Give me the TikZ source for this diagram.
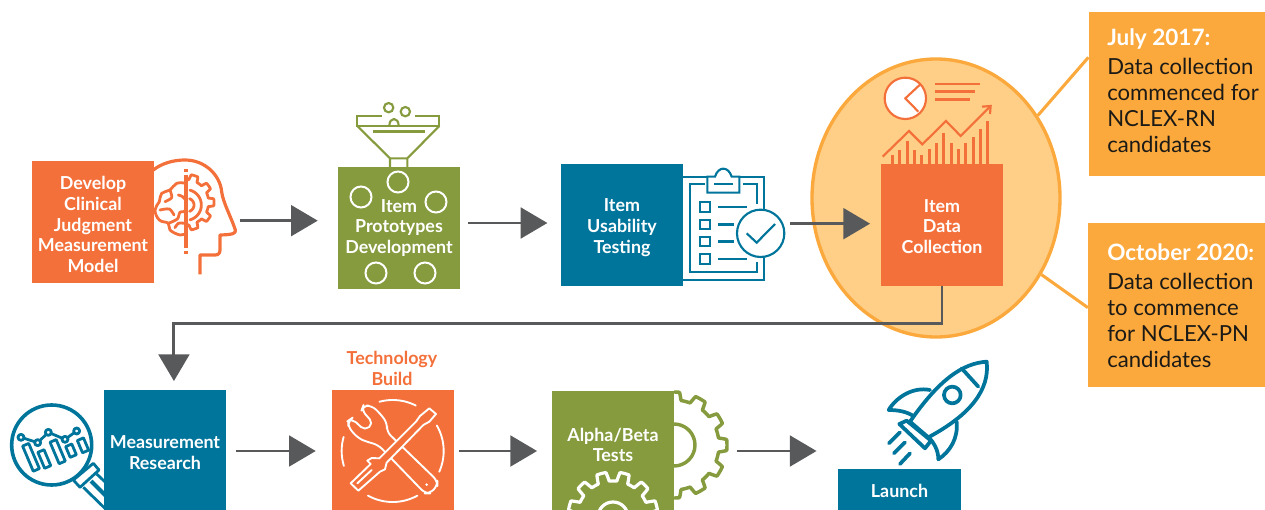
\documentclass[tikz,border=0pt]{standalone}
\usepackage{fontspec}
\setmainfont{Lato}
\usetikzlibrary{arrows.meta,shapes.geometric}
\definecolor{cor}{HTML}{F4703A}
\definecolor{col}{HTML}{859B3D}
\definecolor{cte}{HTML}{00759C}
\definecolor{cam}{HTML}{FBA93D}
\definecolor{cel}{HTML}{FFCE87}
\definecolor{cgr}{HTML}{58595B}
\definecolor{cink}{HTML}{1C1A16}
\tikzset{
 boxbase/.style={minimum width=91.5pt,minimum height=91.5pt,inner sep=0pt},
 obox/.style={boxbase,fill=cor},
 gbox/.style={boxbase,fill=col},
 tbox/.style={boxbase,fill=cte},
 flow/.style={draw=cgr,line width=2.2pt,-{Triangle[length=20pt,width=23pt]}},
 leader/.style={draw=cam,line width=2.3pt},
 callout/.style={fill=cam,minimum width=132.5pt,minimum height=123pt,inner sep=0pt},
 callhead/.style={anchor=west,inner sep=0pt,text=white,font=\fontsize{16.9}{20}\selectfont\bfseries},
 callbody/.style={anchor=north west,inner sep=0pt,text=cink,align=left,font=\fontsize{16.6}{19.6}\selectfont},
 boxtext/.style={inner sep=0pt,align=center,text=white,font=\fontsize{13.4}{15.5}\selectfont\bfseries},
 iconO/.style={draw=cor,line width=2.4pt},
 brainl/.style={draw=cor,line width=2.1pt,line cap=round,line join=round},
 iconG/.style={draw=col,line width=1.6pt},
 iconT/.style={draw=cte,line width=1.6pt},
 iconM/.style={draw=cte,line width=2.1pt,line join=round},
 iconW/.style={draw=white,line width=1.5pt},
 iconX/.style={draw=white,line width=1.4pt,line join=round,line cap=round},
 iconR/.style={draw=cte,line width=2.8pt,line cap=round,line join=round},
}
\begin{document}
\begin{tikzpicture}[x=0.75pt,y=-0.75pt,
 declare function={gr(\t,\n,\a,\b)=\a+(\b-\a)*max(0,min(1,0.5+1.6*cos(\n*\t)));}]
\useasboundingbox (0,0) rectangle (1265,510);
\clip (0,0) rectangle (1265,510);
% focus ellipse and callouts
\node[callout] (c1) at (1177,94) {};
\node[callout] (c2) at (1176.5,305) {};
\node[ellipse,draw=cam,fill=cel,line width=2.5pt,minimum width=186pt,minimum height=208.5pt,inner sep=0pt] (focus) at (936,198) {};
\draw[leader] (focus.39) -- ([yshift=27.5pt]c1.west);
\draw[leader] (focus.-36) -- ([yshift=-2pt]c2.west);
\node[callhead] (h1) at (1107,39.5) {July 2017:};
\node[callbody] (b1) at (1107,58) {Data collection\\commenced for\\NCLEX-RN\\candidates};
\node[callhead] (h2) at (1107,252.5) {October 2020:};
\node[callbody] (b2) at (1107,272.5) {Data collection\\to commence\\for NCLEX-PN\\candidates};
% head icon
\begin{scope}[shift={(150,155)},scale=1/3]
 \draw[iconO,line join=round] (10,45) .. controls (35,25) and (70,15) .. (105,15) .. controls (165,15) and (210,60) .. (215,110) .. controls (218,140) and (245,190) .. (256,225) .. controls (258,235) and (250,239) .. (210,240) -- (210,285) .. controls (210,295) and (205,300) .. (195,300) -- (150,300) -- (150,358);
 \draw[iconO] (108,42) -- (108,52) (108,60) -- (108,280) (108,288) -- (108,298);
 \draw[brainl] plot[domain=-88:88,samples=181,variable=\t] ({108+gr(\t,10,68,84)*cos(\t)},{142+gr(\t,10,68,84)*sin(\t)});
 \draw[brainl] plot[domain=-75:75,samples=40,variable=\t] ({108+46*cos(\t)},{150+46*sin(\t)});
 \draw[brainl] plot[domain=-70:70,samples=40,variable=\t] ({112+20*cos(\t)},{150+20*sin(\t)});
 \draw[brainl] plot[smooth,tension=.7] coordinates {(108,85) (80,85) (60,105) (35,115) (28,140) (15,165) (28,195) (55,205) (60,225) (90,240) (108,235)};
 \draw[brainl] plot[smooth] coordinates {(85,120) (98,125) (108,137)};
 \draw[brainl] plot[smooth] coordinates {(60,105) (65,128) (45,140)};
 \draw[brainl] plot[smooth] coordinates {(30,165) (58,162) (72,180)};
 \draw[brainl] plot[smooth] coordinates {(55,205) (82,192) (90,172) (108,170)};
 \draw[brainl] plot[smooth] coordinates {(75,218) (85,205) (108,205)};
\end{scope}
% funnel
\begin{scope}[shift={(20,90)},scale=1/3]
 \draw[iconG] (1085,78) -- (1012,78) -- (1012,108) -- (1258,108) -- (1258,78) -- (1185,78);
 \draw[iconG] (1012,108) -- (1110,205) -- (1110,232) (1258,108) -- (1162,205) -- (1162,232) (1110,205) -- (1162,205);
 \draw[col,line width=2.1pt] (1060,124) -- (1215,124);
 \draw[iconG] (1106,53) circle[radius=14];
 \draw[iconG] (1156,65) circle[radius=14];
 \draw[iconG] (1108,108) .. controls (1108,80) and (1136,80) .. (1136,108);
\end{scope}
% clipboard
\begin{scope}[shift={(550,60)},scale=1/3]
 \draw[iconT] (399,350) -- (472,350) (568,350) -- (642,350) -- (642,450) (642,590) -- (642,660) -- (399,660);
 \draw[iconT] (465,372) -- (420,372) -- (420,635) -- (620,635) -- (620,605) (580,372) -- (620,372) -- (620,432);
 \draw[iconT] (472,350) -- (472,398) -- (568,398) -- (568,350) -- (545,350) .. controls (535,318) and (505,318) .. (495,350) -- cycle;
 \draw[cte,line width=1.9pt] (492,372) -- (548,372);
 \foreach \yy/\ll in {441/590,493/552,545/552,597/590}{
  \draw[iconT] (449,\yy-14) rectangle (480,\yy+14);
  \draw[cte,line width=1.9pt] (505,\yy) -- (\ll,\yy);
 }
 \draw[iconT] (632,520) circle[radius=71];
 \draw[iconT] (590,520) -- (620,548) -- (675,492);
\end{scope}
% data icon
\begin{scope}[shift={(550,60)},scale=1/3]
 \draw[draw=cor,line width=1.6pt,fill=white] (1066,115) circle[radius=62];
 \draw[draw=cor,line width=1.6pt] (1112,72) -- (1066,115) -- (1105,155);
 \foreach \yy/\ll in {72/1290,95/1275,118/1260}{\draw[cor,line width=1.9pt] (1155,\yy) -- (\ll,\yy);}
 \draw[draw=cor,line width=1.6pt] (998,290) -- (1077,213) -- (1117,253) -- (1188,183) -- (1232,228) -- (1320,140);
 \draw[draw=cor,line width=1.6pt] (1296,140) -- (1322,138) -- (1320,162);
 \foreach \xx/\yy in {1027/285,1049/270,1072/243,1093/270,1114/285,1138/268,1160/250,1181/220,1204/250,1226/268,1247/250,1270/232,1292/207,1313/183}{
  \draw[cor,line width=1.9pt] (\xx,312) -- (\xx,\yy);}
\end{scope}
% magnifier
\begin{scope}[shift={(5,400)},scale=1/3]
 \draw[iconM,line width=2.7pt] (140,135) circle[radius=120];
 \draw[iconM] (205,240) -- (265,190) -- (282,210) -- (225,262) -- cycle;
 \draw[iconM] (235,262) -- (310,335) (275,222) -- (310,255);
 \draw[iconM,line width=3pt] (258,243) -- (310,295);
 \draw[iconM] (48,112) -- (98,128) -- (130,97) -- (180,118) -- (215,93);
 \foreach \xx/\yy in {48/112,98/128,130/97,180/118,215/93}{\draw[iconM,fill=white] (\xx,\yy) circle[radius=9];}
 \foreach \xx/\yy/\ll in {78/172/82,118/177/52,158/155/70,198/152/35,234/136/40}{
  \draw[iconM,rotate around={23:(\xx,\yy)}] (\xx-10,\yy-\ll/2) rectangle (\xx+10,\yy+\ll/2);}
\end{scope}
% big gear behind the alpha box
\draw[iconG,line width=2.6pt,line join=round] plot[domain=-90:90,samples=181,variable=\t] ({674+gr(\t,12,45,53)*cos(\t)},{445+gr(\t,12,45,53)*sin(\t)});
\draw[iconG,line width=2.6pt] (674,445) circle[radius=21];
% rocket
\begin{scope}[shift={(530,350)},scale=1/3]
 \draw[iconR] (1370,35) .. controls (1300,40) and (1230,85) .. (1140,215) -- (1195,262) .. controls (1320,195) and (1380,120) .. (1370,35) -- cycle;
 \draw[iconR] (1295,55) -- (1345,110);
 \draw[iconR] (1267,135) circle[radius=25];
 \draw[iconR] (1200,120) .. controls (1150,110) and (1100,140) .. (1076,180) .. controls (1105,180) and (1130,185) .. (1150,198);
 \draw[iconR] (1280,215) .. controls (1285,265) and (1260,305) .. (1225,328) .. controls (1225,300) and (1212,280) .. (1197,262);
 \draw[iconR] (1108,222) -- (1130,212) -- (1203,272) -- (1185,295) -- cycle;
 \draw[iconR] (1077,280) -- (1110,247) (1092,310) -- (1125,277) (1110,342) -- (1140,310);
\end{scope}
% boxes
\node[obox] (dev) at (93,222) {};
\node[gbox] (proto) at (399,228) {};
\node[tbox] (usab) at (622,225) {};
\node[obox] (coll) at (942,225) {};
\node[tbox] (meas) at (165,451) {};
\node[obox] (tech) at (393,451) {};
\node[gbox] (alpha) at (613,452) {};
\node[tbox,minimum width=92pt,minimum height=33pt] (launch) at (899.5,491) {};
\node[boxtext] (devl) at (93,224.5) {Develop\\Clinical\\Judgment\\Measurement\\Model};
\node[boxtext] (protol) at (399,228) {Item\\Prototypes\\Development};
\node[boxtext] (usabl) at (622,227.5) {Item\\Usability\\Testing};
\node[boxtext] (colll) at (942,226.5) {Item\\Data\\Collection};
\node[boxtext] (measl) at (165,452.5) {Measurement\\Research};
\node[boxtext] (launchl) at (899.5,491) {Launch};
\node[boxtext,text=cor] (techl) at (392,368.5) {Technology\\Build};
\node[boxtext] (alphal) at (613,445) {Alpha/Beta\\Tests};
% circles in prototypes box
\foreach \xx/\yy in {398/182,361/197,436/202,376/273,425/273}{\draw[iconW] (\xx,\yy) circle[radius=10.5];}
% white gear
\draw[iconW,line width=2.4pt,line join=round] plot[domain=0:360,samples=361,variable=\t] ({613+gr(\t+15,12,36,45)*cos(\t)},{517+gr(\t+15,12,36,45)*sin(\t)}) -- cycle;
\draw[iconW,line width=2.4pt] (613,517) circle[radius=15];
% tools
\begin{scope}[shift={(330,390)},scale=1/3]
 \foreach \a/\b in {-105/-63,-30/24,61/119,163/196}{
  \draw[iconX] plot[domain=\a:\b,samples=30,variable=\t] ({188+153*cos(\t)},{183+153*sin(\t)});}
 \draw[iconX,fill=cor,rounded corners=4pt] (95,60) -- (100,47) -- (125,47) -- (150,70) -- (172,100) -- (170,125) -- (322,272) -- (322,288) -- (300,310) -- (285,310) -- (145,165) -- (110,155) -- (85,145) -- (55,112) -- (55,92) -- (65,85) -- (105,122) -- (130,100) -- cycle;
 \draw[iconX,fill=cor,line join=round] (298,55) -- (318,72) -- (298,95) -- (280,105) -- (170,218) -- (165,238) -- (150,245) -- (85,302) -- (62,280) -- (122,222) -- (112,212) -- (125,204) -- (148,205) -- (258,95) -- (270,78) -- cycle;
 \draw[iconX] (82,280) -- (125,240);
 \draw[white,fill=white] (290,284) circle[radius=3];
\end{scope}
% connectors
\draw[flow,shorten <=64pt,shorten >=15pt] ([yshift=1pt]dev.east) -- ([yshift=1pt]dev.east -| proto.west);
\draw[flow,shorten <=6pt,shorten >=10pt] ([yshift=1.5pt]proto.east |- usab.east) -- ([yshift=1.5pt]usab.west);
\draw[flow,shorten <=80pt,shorten >=8pt] ([yshift=1pt]usab.east) -- ([yshift=1pt]usab.east -| coll.west);
\draw[flow,shorten >=6.5pt] (coll.south) -- ++(0,37) -| ([xshift=6.7pt]meas.north);
\draw[flow,shorten <=7.5pt,shorten >=12pt] (meas.east) -- (tech.west);
\draw[flow,shorten <=3.5pt,shorten >=11pt] (tech.east) -- (tech.east -| alpha.west);
\draw[flow,shorten <=47pt,shorten >=16pt] (tech.east -| alpha.east) -- (tech.east -| launch.west);
\end{tikzpicture}
\end{document}
